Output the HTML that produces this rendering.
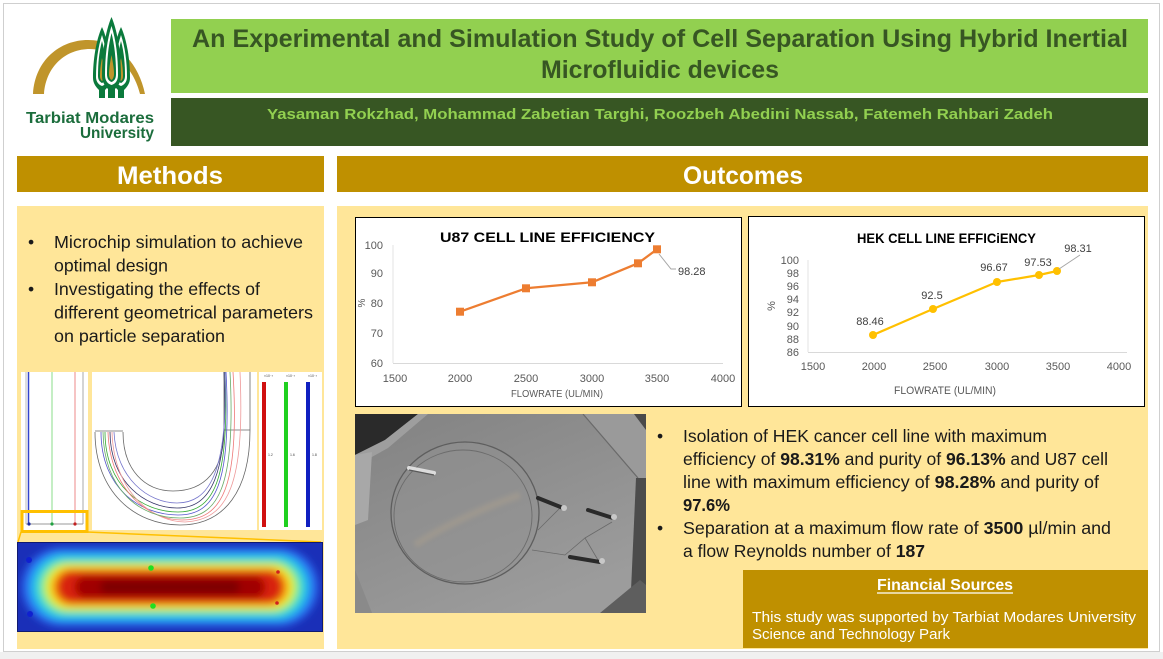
<!DOCTYPE html>
<html><head><meta charset="utf-8">
<style>
html,body{margin:0;padding:0;background:#fff}
svg{display:block}
text{font-family:"Liberation Sans",sans-serif}
</style></head>
<body>
<svg width="1163" height="659" viewBox="0 0 1163 659" xmlns="http://www.w3.org/2000/svg">
<defs>
  <clipPath id="heatClip"><rect x="17" y="542" width="306" height="90"/></clipPath>
  <clipPath id="photoClip"><rect x="355" y="414" width="291" height="199"/></clipPath>
  <filter id="blur4" x="-20%" y="-40%" width="140%" height="180%"><feGaussianBlur stdDeviation="4"/></filter>
  <filter id="blur1"><feGaussianBlur stdDeviation="1"/></filter>
  <filter id="blur2" x="-20%" y="-20%" width="140%" height="140%"><feGaussianBlur stdDeviation="2"/></filter>
  <linearGradient id="photoGrad" x1="0" y1="0" x2="0.6" y2="1">
    <stop offset="0" stop-color="#828282"/>
    <stop offset="0.5" stop-color="#8f8f8f"/>
    <stop offset="1" stop-color="#9c9c9c"/>
  </linearGradient>
</defs>

<rect width="1163" height="659" fill="#fff"/>
<rect x="0" y="652" width="1163" height="7" fill="#f0f0f0"/>
<rect x="3.5" y="3.5" width="1156" height="648" fill="none" stroke="#cfcfcf"/>

<!-- Logo -->
<path d="M33,94 C35,60 60,40 88,40 C115,40 138,60 145,94 L140,94 C133,66 113,49 90,49 C66,49 46,66 44,94 Z" fill="#c0952b"/>
<g>
  <!-- left tree -->
  <path d="M102,27 C108,40 111,60 111,78 C111,84 107,88 105,90 L105,98 L99,98 L99,90 C97,88 93,84 93,78 C93,60 96,40 102,27 Z" fill="#0b7a3c"/>
  <path d="M102,35 C106,47 108,62 108,77 C108,82 105,85 102,86 C99,85 96,82 96,77 C96,62 98,47 102,35 Z" fill="#fff"/>
  <path d="M102,41 C105,52 106,64 106,76 C106,80 104,82 102,83 C100,82 98,80 98,76 C98,64 99,52 102,41 Z" fill="#0b7a3c"/>
  <path d="M102,58 C103.5,65 104,71 104,76 C104,79 103,80 102,81 C101,80 100,79 100,76 C100,71 100.5,65 102,58 Z" fill="#c0952b"/>
  <!-- right tree -->
  <path d="M121,27 C127,40 130,60 130,78 C130,84 126,88 124,90 L124,98 L118,98 L118,90 C116,88 112,84 112,78 C112,60 115,40 121,27 Z" fill="#0b7a3c"/>
  <path d="M121,35 C125,47 127,62 127,77 C127,82 124,85 121,86 C118,85 115,82 115,77 C115,62 117,47 121,35 Z" fill="#fff"/>
  <path d="M121,41 C124,52 125,64 125,76 C125,80 123,82 121,83 C119,82 117,80 117,76 C117,64 118,52 121,41 Z" fill="#0b7a3c"/>
  <path d="M121,58 C122.5,65 123,71 123,76 C123,79 122,80 121,81 C120,80 119,79 119,76 C119,71 119.5,65 121,58 Z" fill="#c0952b"/>
  <!-- middle tree -->
  <path d="M111.5,17 C118,32 121,55 121,76 C121,83 117,87 115,89 L115,98 L108,98 L108,89 C106,87 102,83 102,76 C102,55 105,32 111.5,17 Z" fill="#0b7a3c"/>
  <path d="M111.5,26 C116,40 118,57 118,75 C118,81 115,84 111.5,85 C108,84 105,81 105,75 C105,57 107,40 111.5,26 Z" fill="#fff"/>
  <path d="M111.5,33 C114.5,45 116,59 116,74 C116,79 114,81 111.5,82 C109,81 107,79 107,74 C107,59 108.5,45 111.5,33 Z" fill="#0b7a3c"/>
  <path d="M111.5,55 C113,63 114,69 114,74 C114,77 113,79 111.5,80 C110,79 109,77 109,74 C109,69 110,63 111.5,55 Z" fill="#c0952b"/>
</g>
<text x="26" y="123" font-size="15.5" font-weight="bold" fill="#1b6d3c" textLength="128" lengthAdjust="spacingAndGlyphs">Tarbiat Modares</text>
<text x="80" y="138" font-size="15.5" font-weight="bold" fill="#1b6d3c" textLength="74" lengthAdjust="spacingAndGlyphs">University</text>

<!-- Title -->
<rect x="171" y="19" width="977" height="74" fill="#92d050"/>
<text x="192" y="47" font-size="25" font-weight="bold" fill="#375623" textLength="936" lengthAdjust="spacingAndGlyphs">An Experimental and Simulation Study of Cell Separation Using Hybrid Inertial</text>
<text x="541" y="78" font-size="25" font-weight="bold" fill="#375623" textLength="238" lengthAdjust="spacingAndGlyphs">Microfluidic devices</text>
<rect x="171" y="98" width="977" height="48" fill="#375623"/>
<text x="267" y="119" font-size="15" font-weight="bold" fill="#92d050" textLength="786" lengthAdjust="spacingAndGlyphs">Yasaman Rokzhad, Mohammad Zabetian Targhi, Roozbeh Abedini Nassab, Fatemeh Rahbari Zadeh</text>

<!-- Section headers -->
<rect x="17" y="156" width="307" height="36" fill="#bf9000"/>
<text x="117" y="184" font-size="25" font-weight="bold" fill="#fff" textLength="106" lengthAdjust="spacingAndGlyphs">Methods</text>
<rect x="337" y="156" width="811" height="36" fill="#bf9000"/>
<text x="683" y="184" font-size="25" font-weight="bold" fill="#fff" textLength="120" lengthAdjust="spacingAndGlyphs">Outcomes</text>

<!-- Content boxes -->
<rect x="17" y="206" width="307" height="443" fill="#ffe699"/>
<rect x="337" y="206" width="811" height="443" fill="#ffe699"/>

<!-- Methods bullets -->
<g font-size="17.5" fill="#1a1a1a">
  <text x="28" y="248">•</text>
  <text x="54" y="248" textLength="249" lengthAdjust="spacingAndGlyphs">Microchip simulation to achieve</text>
  <text x="54" y="271.5" textLength="114" lengthAdjust="spacingAndGlyphs">optimal design</text>
  <text x="28" y="295">•</text>
  <text x="54" y="295" textLength="206" lengthAdjust="spacingAndGlyphs">Investigating the effects of</text>
  <text x="54" y="318.5" textLength="259" lengthAdjust="spacingAndGlyphs">different geometrical parameters</text>
  <text x="54" y="342" textLength="171" lengthAdjust="spacingAndGlyphs">on particle separation</text>
</g>

<!-- Simulation panels -->
<rect x="21" y="372" width="67" height="158" fill="#fff"/>
<line x1="26" y1="372" x2="26" y2="524" stroke="#bbb" stroke-width="1"/>
<line x1="28.5" y1="372" x2="28.5" y2="524" stroke="#3344cc" stroke-width="1.5"/>
<line x1="52" y1="372" x2="52" y2="524" stroke="#88dd88" stroke-width="1"/>
<line x1="75" y1="372" x2="75" y2="524" stroke="#e88" stroke-width="1"/>
<line x1="83" y1="372" x2="83" y2="524" stroke="#aaa" stroke-width="1"/>
<line x1="26" y1="524" x2="83" y2="524" stroke="#999" stroke-width="1"/>
<circle cx="29" cy="524" r="1.6" fill="#1a2aa0"/>
<circle cx="52" cy="524" r="1.6" fill="#20a040"/>
<circle cx="75" cy="524" r="1.6" fill="#c02020"/>

<rect x="92" y="372" width="165" height="158" fill="#fff"/>
<g fill="none" stroke-width="0.8">
  <path d="M95,432 C95,492 135,525 180,525 C225,525 250,490 250,430 L250,372" stroke="#666"/>
  <path d="M123,432 C123,470 145,491 173,491 C205,491 224,470 224,430 L224,372" stroke="#666"/>
  <line x1="95" y1="431" x2="123" y2="431" stroke="#666"/>
  <line x1="224" y1="430" x2="250" y2="430" stroke="#666"/>
  <path d="M101,432 C101,488 140,515 178,515 C215,515 232,485 226,372" stroke="#55c"/>
  <path d="M105,432 C105,486 142,512 178,512 C213,512 230,482 225,372" stroke="#3a3"/>
  <path d="M110,432 C110,482 145,508 177,508 C210,508 229,478 224,372" stroke="#336"/>
  <path d="M114,432 C116,478 148,503 177,503 C208,503 228,475 225,372" stroke="#77c"/>
  <path d="M108,432 C110,492 150,520 182,520 C222,520 240,488 233,372" stroke="#e77"/>
  <path d="M112,432 C114,495 155,522 185,522 C228,520 245,485 240,372" stroke="#e99"/>
  <path d="M103,432 C104,490 140,518 180,518 C218,518 236,488 230,372" stroke="#6a6"/>
</g>

<rect x="259" y="372" width="63" height="158" fill="#fff"/>
<rect x="262" y="382" width="4" height="145" fill="#d01010"/>
<rect x="284" y="382" width="4" height="145" fill="#20d020"/>
<rect x="306" y="382" width="4" height="145" fill="#1020c0"/>
<g font-size="3.5" fill="#444">
  <text x="264" y="377">×10⁻³</text><text x="286" y="377">×10⁻³</text><text x="308" y="377">×10⁻³</text>
  <text x="268" y="456">1.2</text><text x="290" y="456">1.6</text><text x="312" y="456">1.8</text>
</g>

<!-- zoom callout -->
<line x1="21" y1="532" x2="18" y2="542" stroke="#ffc000" stroke-width="1.5"/>
<line x1="87" y1="532" x2="321" y2="542" stroke="#ffc000" stroke-width="1.5"/>
<rect x="22" y="511.5" width="65" height="20" fill="none" stroke="#ffc000" stroke-width="3"/>

<!-- Heatmap -->
<g clip-path="url(#heatClip)">
  <rect x="17" y="542" width="306" height="90" fill="#1a2fb8"/>
  <g filter="url(#blur4)">
    <rect x="22" y="548" width="296" height="78" rx="39" fill="#2a6ef0"/>
    <rect x="30" y="553" width="280" height="68" rx="34" fill="#22b4f0"/>
    <rect x="36" y="558" width="268" height="58" rx="29" fill="#40e0c8"/>
    <rect x="42" y="562" width="256" height="50" rx="25" fill="#a8f060"/>
    <rect x="47" y="565" width="246" height="44" rx="22" fill="#f4e820"/>
    <rect x="52" y="568" width="236" height="38" rx="19" fill="#f89010"/>
    <rect x="57" y="571" width="226" height="32" rx="16" fill="#d82008"/>
    <rect x="75" y="576" width="190" height="22" rx="11" fill="#a00000"/>
    <rect x="100" y="580" width="140" height="14" rx="7" fill="#7e0000"/>
  </g>
  <rect x="17.5" y="542.5" width="305" height="89" fill="none" stroke="#101a70" stroke-width="1"/>
  <circle cx="29" cy="560" r="3" fill="#1020d0"/>
  <circle cx="30" cy="614" r="3" fill="#1020d0"/>
  <circle cx="151" cy="568" r="2.8" fill="#20e020"/>
  <circle cx="153" cy="606" r="2.8" fill="#20e020"/>
  <circle cx="278" cy="572" r="1.8" fill="#d02020"/>
  <circle cx="277" cy="603" r="1.8" fill="#d02020"/>
</g>

<!-- Chart 1: U87 -->
<rect x="355.5" y="217.5" width="386" height="189" fill="#fff" stroke="#000" stroke-width="1"/>
<text x="440" y="242" font-size="14" font-weight="bold" fill="#000" textLength="215" lengthAdjust="spacingAndGlyphs">U87 CELL LINE EFFICIENCY</text>
<line x1="393" y1="245" x2="393" y2="363" stroke="#e3e3e3" stroke-width="1"/>
<line x1="393" y1="363.5" x2="723" y2="363.5" stroke="#d9d9d9" stroke-width="1"/>
<g font-size="11" fill="#595959" text-anchor="end">
  <text x="383" y="249">100</text>
  <text x="383" y="277">90</text>
  <text x="383" y="307">80</text>
  <text x="383" y="337">70</text>
  <text x="383" y="367">60</text>
</g>
<g font-size="11" fill="#595959" text-anchor="middle">
  <text x="395" y="382">1500</text>
  <text x="460" y="382">2000</text>
  <text x="526" y="382">2500</text>
  <text x="592" y="382">3000</text>
  <text x="657" y="382">3500</text>
  <text x="723" y="382">4000</text>
</g>
<text x="511" y="397" font-size="10" fill="#595959" textLength="92" lengthAdjust="spacingAndGlyphs">FLOWRATE (UL/MIN)</text>
<text x="0" y="0" font-size="10" fill="#595959" text-anchor="middle" transform="translate(365,303) rotate(-90)">%</text>
<polyline points="460,311.7 526,288.3 592,282.3 638,263.3 657,249.3" fill="none" stroke="#ed7d31" stroke-width="2.25" stroke-linejoin="round"/>
<g fill="#ed7d31">
  <rect x="456" y="307.7" width="8" height="8"/>
  <rect x="522" y="284.3" width="8" height="8"/>
  <rect x="588" y="278.3" width="8" height="8"/>
  <rect x="634" y="259.3" width="8" height="8"/>
  <rect x="653" y="245.3" width="8" height="8"/>
</g>
<polyline points="659,254 671,269 676,269" fill="none" stroke="#a6a6a6" stroke-width="1"/>
<text x="678" y="275" font-size="11" fill="#404040">98.28</text>

<!-- Chart 2: HEK -->
<rect x="748.5" y="216.5" width="396" height="190" fill="#fff" stroke="#000" stroke-width="1"/>
<text x="857" y="243" font-size="14" font-weight="bold" fill="#000" textLength="179" lengthAdjust="spacingAndGlyphs">HEK CELL LINE EFFICiENCY</text>
<line x1="808" y1="260" x2="808" y2="352" stroke="#e3e3e3" stroke-width="1"/>
<line x1="808" y1="352.5" x2="1127" y2="352.5" stroke="#d9d9d9" stroke-width="1"/>
<g font-size="11" fill="#595959" text-anchor="end">
  <text x="799" y="264">100</text>
  <text x="799" y="277">98</text>
  <text x="799" y="290">96</text>
  <text x="799" y="303">94</text>
  <text x="799" y="316">92</text>
  <text x="799" y="330">90</text>
  <text x="799" y="343">88</text>
  <text x="799" y="356">86</text>
</g>
<g font-size="11" fill="#595959" text-anchor="middle">
  <text x="813" y="370">1500</text>
  <text x="874" y="370">2000</text>
  <text x="935" y="370">2500</text>
  <text x="997" y="370">3000</text>
  <text x="1058" y="370">3500</text>
  <text x="1119" y="370">4000</text>
</g>
<text x="894" y="394" font-size="11" fill="#595959" textLength="102" lengthAdjust="spacingAndGlyphs">FLOWRATE (UL/MIN)</text>
<text x="0" y="0" font-size="11" fill="#595959" text-anchor="middle" transform="translate(775,306) rotate(-90)">%</text>
<polyline points="873,335 933,309 997,282 1039,275 1057,271" fill="none" stroke="#ffc000" stroke-width="2.25" stroke-linejoin="round"/>
<g fill="#ffc000">
  <circle cx="873" cy="335" r="4"/>
  <circle cx="933" cy="309" r="4"/>
  <circle cx="997" cy="282" r="4"/>
  <circle cx="1039" cy="275" r="4"/>
  <circle cx="1057" cy="271" r="4"/>
</g>
<line x1="1059" y1="269" x2="1080" y2="255" stroke="#a6a6a6" stroke-width="1"/>
<g font-size="11" fill="#404040" text-anchor="middle">
  <text x="870" y="325">88.46</text>
  <text x="932" y="299">92.5</text>
  <text x="994" y="271">96.67</text>
  <text x="1038" y="266">97.53</text>
  <text x="1078" y="252">98.31</text>
</g>

<!-- Photo -->
<g clip-path="url(#photoClip)">
  <rect x="355" y="414" width="291" height="199" fill="url(#photoGrad)"/>
  <!-- top-left dark corner and bevel -->
  <polygon points="355,414 418,414 385,440 355,455" fill="#2a2a2a"/>
  <polygon points="385,440 418,414 428,414 388,448 370,458 355,462 355,455" fill="#9e9e9e"/>
  <polygon points="355,455 372,452 368,520 355,525" fill="#a8a8a8"/>
  <!-- top-right bevel -->
  <polygon points="583,414 640,414 646,420 646,478 638,478" fill="#9a9a9a"/>
  <line x1="583" y1="414" x2="638" y2="478" stroke="#6a6a6a" stroke-width="1.2"/>
  <polygon points="634,414 646,414 646,430" fill="#4a4a4a"/>
  <!-- right edge dark strip -->
  <polygon points="636,478 646,478 646,613 630,613" fill="#4c4c4c"/>
  <polygon points="600,613 640,580 646,585 646,613" fill="#5e5e5e"/>
  <polygon points="355,570 372,613 355,613" fill="#8a8a8a"/>
  <!-- circular chamber -->
  <ellipse cx="465" cy="513" rx="74" ry="71" fill="#929292" opacity="0.5"/>
  <ellipse cx="465" cy="513" rx="74" ry="71" fill="none" stroke="#5e5e5e" stroke-width="1.3"/>
  <ellipse cx="463" cy="516" rx="69" ry="66" fill="none" stroke="#6c6c6c" stroke-width="0.9"/>
  <path d="M415,545 C445,525 490,505 520,495" stroke="#b4a48c" stroke-width="7" opacity="0.35" fill="none" filter="url(#blur2)"/>
  <path d="M532,550 L565,555 L585,538 L612,522 M585,538 L598,560 M538,530 L560,508" stroke="#6a6a6a" stroke-width="0.8" fill="none"/>
  <!-- pins -->
  <line x1="409" y1="468" x2="434" y2="473" stroke="#dcdcdc" stroke-width="4" stroke-linecap="round"/>
  <line x1="409" y1="470" x2="434" y2="475" stroke="#5a5a5a" stroke-width="1.2"/>
  <line x1="538" y1="498" x2="563" y2="508" stroke="#2a2a2a" stroke-width="4" stroke-linecap="round"/>
  <circle cx="564" cy="508" r="3" fill="#c8c8c8"/>
  <line x1="588" y1="510" x2="613" y2="518" stroke="#2a2a2a" stroke-width="4" stroke-linecap="round"/>
  <circle cx="614" cy="517" r="3" fill="#c8c8c8"/>
  <line x1="570" y1="557" x2="600" y2="562" stroke="#2a2a2a" stroke-width="4" stroke-linecap="round"/>
  <circle cx="602" cy="561" r="3" fill="#c8c8c8"/>
</g>

<!-- Outcome bullets -->
<g font-size="17.5" fill="#1a1a1a">
  <text x="657" y="442">•</text>
  <text x="683" y="442" textLength="364" lengthAdjust="spacingAndGlyphs">Isolation of HEK cancer cell line with maximum</text>
  <text x="683" y="465" textLength="425" lengthAdjust="spacingAndGlyphs">efficiency of <tspan font-weight="bold">98.31%</tspan> and purity of <tspan font-weight="bold">96.13%</tspan> and U87 cell</text>
  <text x="683" y="488" textLength="416" lengthAdjust="spacingAndGlyphs">line with maximum efficiency of <tspan font-weight="bold">98.28%</tspan> and purity of</text>
  <text x="683" y="511" font-weight="bold" textLength="47" lengthAdjust="spacingAndGlyphs">97.6%</text>
  <text x="657" y="534">•</text>
  <text x="683" y="534" textLength="428" lengthAdjust="spacingAndGlyphs">Separation at a maximum flow rate of <tspan font-weight="bold">3500</tspan> µl/min and</text>
  <text x="683" y="557" textLength="242" lengthAdjust="spacingAndGlyphs">a flow Reynolds number of <tspan font-weight="bold">187</tspan></text>
</g>

<!-- Financial sources -->
<rect x="743" y="570" width="405" height="78" fill="#bf9000"/>
<text x="877" y="590" font-size="16" font-weight="bold" fill="#fff" textLength="136" lengthAdjust="spacingAndGlyphs">Financial Sources</text>
<line x1="877" y1="593" x2="1013" y2="593" stroke="#fff" stroke-width="1.2"/>
<text x="752" y="622" font-size="14.5" fill="#fff" textLength="384" lengthAdjust="spacingAndGlyphs">This study was supported by Tarbiat Modares University</text>
<text x="752" y="639" font-size="14.5" fill="#fff" textLength="198" lengthAdjust="spacingAndGlyphs">Science and Technology Park</text>
</svg>
</body></html>
